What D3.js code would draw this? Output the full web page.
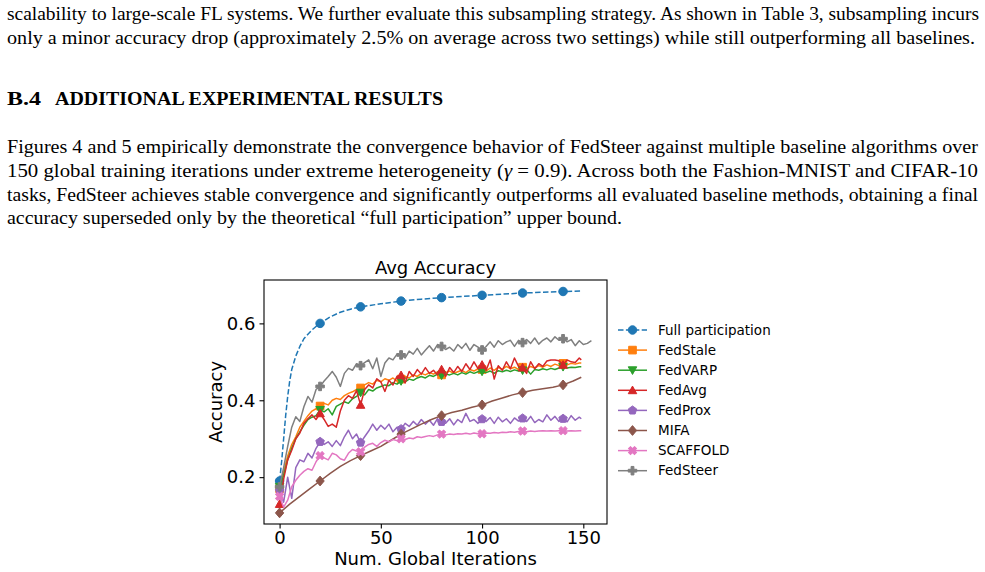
<!DOCTYPE html>
<html>
<head>
<meta charset="utf-8">
<script src="https://cdn.jsdelivr.net/npm/d3@7"></script>
<style>
  body { margin: 0; background: #fff; }
</style>
</head>
<body>
<div id="page"></div>
<script>
// iteration grids (x values)
const evenIters = d3.range(0, 150, 2).concat([149]);
const steerIters = d3.range(0, 156, 2);
const fullIters = [0, 1, 2, 3, 4, 5, 6, 8, 10, 12, 14, 16, 18, 20, 25, 30, 35, 40, 50, 60, 70, 80, 90, 100, 110, 120, 130, 140, 149];
const mifaIters = [0, 5, 10, 15, 20, 25, 30, 35, 40, 45, 50, 55, 60, 65, 70, 75, 80, 85, 90, 95, 100, 105, 110, 115, 120, 125, 130, 135, 140, 145, 149];

const fullParticipation = [0.19, 0.24, 0.30, 0.36, 0.41, 0.45, 0.48, 0.515, 0.54, 0.56, 0.572, 0.583, 0.592, 0.600,
  0.617, 0.629, 0.637, 0.643, 0.651, 0.658, 0.663, 0.667, 0.670, 0.673, 0.676, 0.679, 0.681, 0.683, 0.684];

const fedStale = [
  0.170, 0.215, 0.255, 0.285, 0.305, 0.330, 0.345, 0.360, 0.372, 0.378,
  0.385, 0.392, 0.388, 0.400, 0.405, 0.402, 0.412, 0.418, 0.422, 0.428,
  0.432, 0.440, 0.446, 0.442, 0.452, 0.448, 0.456, 0.452, 0.458, 0.450,
  0.455, 0.462, 0.458, 0.466, 0.462, 0.470, 0.466, 0.472, 0.468, 0.474,
  0.466, 0.472, 0.476, 0.470, 0.474, 0.478, 0.472, 0.480, 0.476, 0.482,
  0.480, 0.476, 0.484, 0.478, 0.486, 0.480, 0.488, 0.482, 0.486, 0.480,
  0.486, 0.482, 0.488, 0.484, 0.490, 0.486, 0.492, 0.488, 0.494, 0.490,
  0.496, 0.492, 0.496, 0.494, 0.497, 0.497];

const fedVARP = [
  0.175, 0.205, 0.245, 0.275, 0.300, 0.318, 0.335, 0.350, 0.356, 0.360,
  0.375, 0.370, 0.378, 0.362, 0.384, 0.390, 0.396, 0.392, 0.404, 0.410,
  0.420, 0.414, 0.428, 0.424, 0.432, 0.436, 0.440, 0.438, 0.446, 0.442,
  0.450, 0.448, 0.455, 0.452, 0.458, 0.462, 0.458, 0.465, 0.462, 0.468,
  0.465, 0.468, 0.466, 0.470, 0.466, 0.472, 0.468, 0.474, 0.470, 0.474,
  0.475, 0.472, 0.476, 0.470, 0.477, 0.474, 0.478, 0.475, 0.479, 0.476,
  0.478, 0.480, 0.468, 0.480, 0.478, 0.482, 0.479, 0.483, 0.480, 0.484,
  0.487, 0.484, 0.486, 0.485, 0.487, 0.487];

const fedAvg = [
  0.130, 0.195, 0.245, 0.270, 0.300, 0.315, 0.340, 0.352, 0.362, 0.350,
  0.366, 0.350, 0.332, 0.338, 0.330, 0.372, 0.400, 0.412, 0.405, 0.425,
  0.388, 0.428, 0.440, 0.432, 0.456, 0.448, 0.423, 0.452, 0.440, 0.462,
  0.465, 0.445, 0.475, 0.462, 0.480, 0.468, 0.485, 0.470, 0.478, 0.466,
  0.480, 0.462, 0.485, 0.472, 0.488, 0.475, 0.495, 0.480, 0.500, 0.482,
  0.492, 0.478, 0.505, 0.455, 0.490, 0.478, 0.500, 0.482, 0.510, 0.488,
  0.485, 0.470, 0.500, 0.482, 0.495, 0.488, 0.502, 0.505, 0.505, 0.503,
  0.492, 0.505, 0.500, 0.498, 0.510, 0.505];

const fedProx = [
  0.165, 0.135, 0.200, 0.145, 0.225, 0.245, 0.240, 0.262, 0.250, 0.275,
  0.292, 0.285, 0.292, 0.280, 0.295, 0.282, 0.305, 0.322, 0.300, 0.312,
  0.290, 0.305, 0.320, 0.338, 0.322, 0.335, 0.325, 0.338, 0.318, 0.330,
  0.325, 0.340, 0.332, 0.345, 0.335, 0.350, 0.338, 0.348, 0.335, 0.352,
  0.344, 0.340, 0.352, 0.336, 0.350, 0.342, 0.366, 0.345, 0.350, 0.340,
  0.351, 0.345, 0.355, 0.340, 0.356, 0.344, 0.352, 0.340, 0.354, 0.346,
  0.353, 0.345, 0.358, 0.342, 0.350, 0.344, 0.362, 0.348, 0.358, 0.345,
  0.352, 0.344, 0.360, 0.348, 0.356, 0.352];

const mifa = [0.107, 0.130, 0.150, 0.170, 0.190, 0.210, 0.228, 0.243, 0.256, 0.268, 0.280, 0.296, 0.312, 0.325,
  0.338, 0.350, 0.360, 0.368, 0.374, 0.382, 0.388, 0.398, 0.406, 0.414, 0.420, 0.426, 0.430, 0.434, 0.440, 0.450, 0.460];

const scaffold = [
  0.150, 0.122, 0.140, 0.175, 0.192, 0.205, 0.215, 0.222, 0.218, 0.240,
  0.256, 0.250, 0.245, 0.262, 0.258, 0.248, 0.244, 0.262, 0.272, 0.268,
  0.266, 0.278, 0.285, 0.288, 0.280, 0.290, 0.296, 0.292, 0.298, 0.295,
  0.300, 0.298, 0.302, 0.300, 0.305, 0.303, 0.306, 0.308, 0.306, 0.310,
  0.312, 0.310, 0.312, 0.311, 0.313, 0.312, 0.314, 0.312, 0.315, 0.313,
  0.313, 0.315, 0.314, 0.316, 0.315, 0.317, 0.316, 0.318, 0.317, 0.319,
  0.320, 0.318, 0.320, 0.319, 0.320, 0.321, 0.320, 0.321, 0.320, 0.321,
  0.321, 0.320, 0.321, 0.320, 0.321, 0.321];

const fedSteer = [
  0.175, 0.225, 0.280, 0.330, 0.357, 0.345, 0.383, 0.410, 0.395, 0.428,
  0.436, 0.450, 0.462, 0.475, 0.460, 0.436, 0.470, 0.483, 0.478, 0.495,
  0.490, 0.498, 0.505, 0.482, 0.510, 0.462, 0.497, 0.510, 0.505, 0.520,
  0.518, 0.510, 0.528, 0.520, 0.535, 0.518, 0.530, 0.542, 0.528, 0.545,
  0.540, 0.532, 0.538, 0.528, 0.545, 0.535, 0.548, 0.530, 0.545, 0.538,
  0.531, 0.540, 0.552, 0.538, 0.555, 0.545, 0.552, 0.556, 0.540, 0.556,
  0.550, 0.558, 0.548, 0.562, 0.546, 0.556, 0.562, 0.552, 0.565, 0.556,
  0.560, 0.552, 0.558, 0.542, 0.555, 0.545, 0.548, 0.555];

const seriesNames = ["Full participation", "FedStale", "FedVARP", "FedAvg", "FedProx", "MIFA", "SCAFFOLD", "FedSteer"];
const yTicks = [0.2, 0.4, 0.6];
const xTicks = [0, 50, 100, 150];

const series = [
  { name: seriesNames[0], xs: fullIters, ys: fullParticipation, color: "#1f77b4", marker: "o", dashed: true },
  { name: seriesNames[1], xs: evenIters, ys: fedStale, color: "#ff7f0e", marker: "s" },
  { name: seriesNames[2], xs: evenIters, ys: fedVARP, color: "#2ca02c", marker: "v" },
  { name: seriesNames[3], xs: evenIters, ys: fedAvg, color: "#d62728", marker: "^" },
  { name: seriesNames[4], xs: evenIters, ys: fedProx, color: "#9467bd", marker: "p" },
  { name: seriesNames[5], xs: mifaIters, ys: mifa, color: "#8c564b", marker: "D" },
  { name: seriesNames[6], xs: evenIters, ys: scaffold, color: "#e377c2", marker: "X" },
  { name: seriesNames[7], xs: steerIters, ys: fedSteer, color: "#7f7f7f", marker: "P" }
];

const svg = d3.select("#page").append("svg")
  .attr("width", 985)
  .attr("height", 572);

// ---- page text ----
const serif = "'Liberation Serif', 'Times New Roman', serif";
const bodySize = 18.5;

function textLine(str, x, y, len, opts = {}) {
  const t = svg.append("text")
    .attr("x", x)
    .attr("y", y)
    .attr("font-family", serif)
    .attr("font-size", opts.size || bodySize)
    .attr("font-weight", opts.bold ? "bold" : "normal")
    .attr("fill", "#000")
    .attr("textLength", len)
    .attr("lengthAdjust", "spacingAndGlyphs");
  if (Array.isArray(str)) {
    str.forEach(p => t.append("tspan").attr("font-style", p.italic ? "italic" : null).text(p.t));
  } else {
    t.text(str);
  }
  return t;
}

textLine("scalability to large-scale FL systems. We further evaluate this subsampling strategy. As shown in Table 3, subsampling incurs", 7, 20, 972);
textLine("only a minor accuracy drop (approximately 2.5% on average across two settings) while still outperforming all baselines.", 7, 44, 968);

textLine("B.4", 7, 105, 34, { bold: true });
textLine("ADDITIONAL EXPERIMENTAL RESULTS", 55, 105, 388, { bold: true });

textLine("Figures 4 and 5 empirically demonstrate the convergence behavior of FedSteer against multiple baseline algorithms over", 7, 153, 971);
textLine([{ t: "150 global training iterations under extreme heterogeneity (" }, { t: "γ", italic: true }, { t: " = 0.9). Across both the Fashion-MNIST and CIFAR-10" }], 7, 177, 971);
textLine("tasks, FedSteer achieves stable convergence and significantly outperforms all evaluated baseline methods, obtaining a final", 7, 200.5, 971);
textLine("accuracy superseded only by the theoretical \u201cfull participation\u201d upper bound.", 7, 224, 615);

// ---- chart ----
const plot = { left: 264, right: 607, top: 280, bottom: 524 };
const sans = "'DejaVu Sans', sans-serif";

const allX = series.flatMap(s => s.xs);
const allY = series.flatMap(s => s.ys);
const xMin = d3.min(allX), xMax = d3.max(allX);
const yMin = d3.min(allY), yMax = d3.max(allY);
const xPad = (xMax - xMin) * 0.05, yPad = (yMax - yMin) * 0.05;

const x = d3.scaleLinear().domain([xMin - xPad, xMax + xPad]).range([plot.left, plot.right]);
const y = d3.scaleLinear().domain([yMin - yPad, yMax + yPad]).range([plot.bottom, plot.top]);

const ms = 8.5;

function markerPath(type, s) {
  const r = s / 2;
  switch (type) {
    case "o": return d3.symbol(d3.symbolCircle, Math.PI * r * r)();
    case "s": return `M${-r * 0.9},${-r * 0.9}H${r * 0.9}V${r * 0.9}H${-r * 0.9}Z`;
    case "^": return `M0,${-r}L${r},${r * 0.8}L${-r},${r * 0.8}Z`;
    case "v": return `M0,${r}L${r},${-r * 0.8}L${-r},${-r * 0.8}Z`;
    case "p": {
      const pts = d3.range(5).map(i => {
        const a = -Math.PI / 2 + i * 2 * Math.PI / 5;
        return [r * 1.05 * Math.cos(a), r * 1.05 * Math.sin(a)];
      });
      return "M" + pts.map(p => p.join(",")).join("L") + "Z";
    }
    case "D": {
      const d = r * 1.15;
      return `M0,${-d}L${d * 0.85},0L0,${d}L${-d * 0.85},0Z`;
    }
    case "P":
    case "X": {
      const a = r, b = r / 3;
      const pts = [[-b, -a], [b, -a], [b, -b], [a, -b], [a, b], [b, b], [b, a], [-b, a], [-b, b], [-a, b], [-a, -b], [-b, -b]];
      return "M" + pts.map(p => p.join(",")).join("L") + "Z";
    }
  }
}

const line = d3.line().x(d => x(d[0])).y(d => y(d[1]));

series.forEach(s => {
  const pts = s.xs.map((v, i) => [v, s.ys[i]]);
  const g = svg.append("g");
  g.append("path")
    .datum(pts)
    .attr("fill", "none")
    .attr("stroke", s.color)
    .attr("stroke-width", 1.5)
    .attr("stroke-linejoin", "round")
    .attr("stroke-dasharray", s.dashed ? "5.5,2.4" : null)
    .attr("d", line);
  g.selectAll("path.mk")
    .data(pts.filter(p => p[0] % 20 === 0 && p[0] <= 140))
    .enter()
    .append("path")
    .attr("class", "mk")
    .attr("d", markerPath(s.marker, ms))
    .attr("transform", d => `translate(${x(d[0])},${y(d[1])})` + (s.marker === "X" ? " rotate(45)" : ""))
    .attr("fill", s.color)
    .attr("stroke", s.color)
    .attr("stroke-width", 1);
});

// spines
svg.append("rect")
  .attr("x", plot.left)
  .attr("y", plot.top)
  .attr("width", plot.right - plot.left)
  .attr("height", plot.bottom - plot.top)
  .attr("fill", "none")
  .attr("stroke", "#000")
  .attr("stroke-width", 1.1);

// axes
const yAxis = svg.append("g")
  .attr("transform", `translate(${plot.left},0)`)
  .call(d3.axisLeft(y).tickValues(yTicks).tickFormat(d3.format(".1f")).tickSize(4.5).tickPadding(4));
const xAxis = svg.append("g")
  .attr("transform", `translate(0,${plot.bottom})`)
  .call(d3.axisBottom(x).tickValues(xTicks).tickFormat(d3.format("d")).tickSize(4.5).tickPadding(3));

[yAxis, xAxis].forEach(a => {
  a.select(".domain").remove();
  a.selectAll(".tick line").attr("stroke", "#000").attr("stroke-width", 1.1);
  a.selectAll(".tick text").attr("font-family", sans).attr("font-size", 18).attr("fill", "#000");
});

// title and labels
svg.append("text")
  .attr("x", (plot.left + plot.right) / 2)
  .attr("y", 274)
  .attr("text-anchor", "middle")
  .attr("font-family", sans)
  .attr("font-size", 18)
  .text("Avg Accuracy");

svg.append("text")
  .attr("x", (plot.left + plot.right) / 2)
  .attr("y", 565)
  .attr("text-anchor", "middle")
  .attr("font-family", sans)
  .attr("font-size", 18)
  .text("Num. Global Iterations");

svg.append("text")
  .attr("transform", `translate(221.5,${(plot.top + plot.bottom) / 2}) rotate(-90)`)
  .attr("text-anchor", "middle")
  .attr("font-family", sans)
  .attr("font-size", 18)
  .text("Accuracy");

// legend
const legend = svg.append("g").attr("transform", "translate(618,330)");
series.forEach((s, i) => {
  const row = legend.append("g").attr("transform", `translate(0,${i * 20.1})`);
  row.append("line")
    .attr("x1", 0).attr("x2", 29)
    .attr("y1", 0).attr("y2", 0)
    .attr("stroke", s.color)
    .attr("stroke-width", 1.5)
    .attr("stroke-dasharray", s.dashed ? "5.5,2.4" : null);
  row.append("path")
    .attr("d", markerPath(s.marker, ms))
    .attr("transform", "translate(14.5,0)" + (s.marker === "X" ? " rotate(45)" : ""))
    .attr("fill", s.color)
    .attr("stroke", s.color)
    .attr("stroke-width", 1);
  row.append("text")
    .attr("x", 40)
    .attr("y", 0)
    .attr("dy", "0.35em")
    .attr("font-family", sans)
    .attr("font-size", 13.5)
    .text(s.name);
});
</script>
</body>
</html>
